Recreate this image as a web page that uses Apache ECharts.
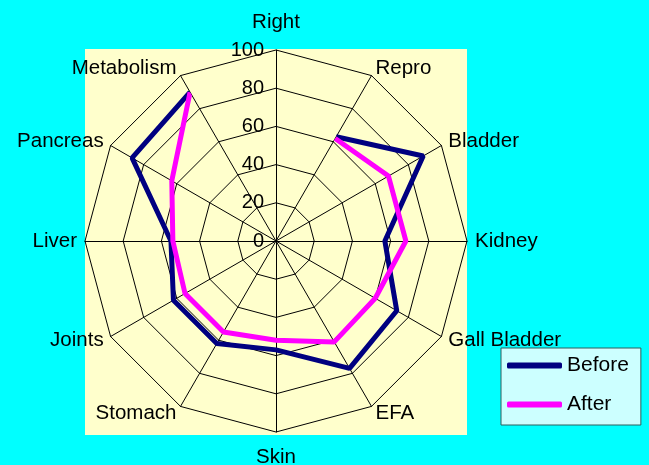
<!DOCTYPE html>
<html>
<head>
<meta charset="utf-8">
<script src="https://cdn.jsdelivr.net/npm/echarts@6/dist/echarts.min.js"></script>
<style>
  html, body { margin: 0; padding: 0; background: #00ffff; }
  #chart { width: 649px; height: 465px; }
</style>
</head>
<body>
<div id="chart"></div>
<script>
// categories, clockwise from the top
var categories = ['Right', 'Repro', 'Bladder', 'Kidney', 'Gall Bladder', 'EFA',
  'Skin', 'Stomach', 'Joints', 'Liver', 'Pancreas', 'Metabolism']
// Right has no value (line is broken there)
var before = [null, 63, 89, 57, 73, 77, 57, 62, 62, 55, 87, 90]
var after = [null, 62, 68, 68, 60, 61, 52, 55, 55, 54, 63, 90]
var ringTicks = [0, 20, 40, 60, 80, 100]

var font = 'Liberation Sans, Arial, sans-serif'
var cx = 276
var cy = 241
var R = 191

// radar goes counter clockwise, so keep the first one and reverse the rest
var radarOrder = [categories[0]].concat(categories.slice(1).reverse())
var indicators = radarOrder.map(function (name, i) {
  var ind = { name: name, min: ringTicks[0], max: ringTicks[ringTicks.length - 1] }
  if (i === 0) {
    ind.axisLabel = { show: true }
    ind.nameGap = 17
  }
  if (name === 'Skin') ind.nameGap = 15
  return ind
})

var chart = echarts.init(document.getElementById('chart'))
chart.setOption({
  backgroundColor: '#00ffff',
  animation: false,
  textStyle: { fontFamily: font },
  graphic: [{
    type: 'rect',
    z: -10,
    shape: { x: 85, y: 49, width: 382, height: 386 },
    style: { fill: '#ffffcc' },
    silent: true
  }],
  legend: {
    orient: 'vertical',
    left: 501,
    top: 348,
    data: ['Before', 'After'],
    icon: 'roundRect',
    itemWidth: 55,
    itemHeight: 6,
    itemGap: 18,
    padding: [7, 12, 10, 6],
    backgroundColor: '#ccffff',
    borderColor: '#2e5e5e',
    borderWidth: 1,
    borderRadius: 0,
    textStyle: { fontFamily: font, fontSize: 21, lineHeight: 20, color: '#000' }
  },
  radar: {
    center: [cx, cy],
    radius: R,
    startAngle: 90,
    shape: 'polygon',
    splitNumber: ringTicks.length - 1,
    indicator: indicators,
    nameGap: 8,
    axisName: { color: '#000', fontFamily: font, fontSize: 20.5 },
    axisLine: { lineStyle: { color: '#000', width: 1 } },
    splitLine: { lineStyle: { color: '#000', width: 1 } },
    splitArea: { show: false },
    axisTick: { show: false },
    axisLabel: { show: false, color: '#000', fontFamily: font, fontSize: 20, margin: 12 }
  },
  polar: {
    center: [cx, cy],
    radius: R
  },
  angleAxis: {
    type: 'category',
    data: categories,
    boundaryGap: false,
    startAngle: 90,
    clockwise: true,
    show: false
  },
  radiusAxis: {
    min: ringTicks[0],
    max: ringTicks[ringTicks.length - 1],
    show: false
  },
  series: [
    {
      name: 'Before',
      type: 'line',
      coordinateSystem: 'polar',
      data: before,
      symbol: 'none',
      connectNulls: false,
      color: '#000080',
      lineStyle: { width: 5, color: '#000080' },
      z: 5
    },
    {
      name: 'After',
      type: 'line',
      coordinateSystem: 'polar',
      data: after,
      symbol: 'none',
      connectNulls: false,
      color: '#ff00ff',
      lineStyle: { width: 5, color: '#ff00ff' },
      z: 6
    }
  ]
})
</script>
</body>
</html>
